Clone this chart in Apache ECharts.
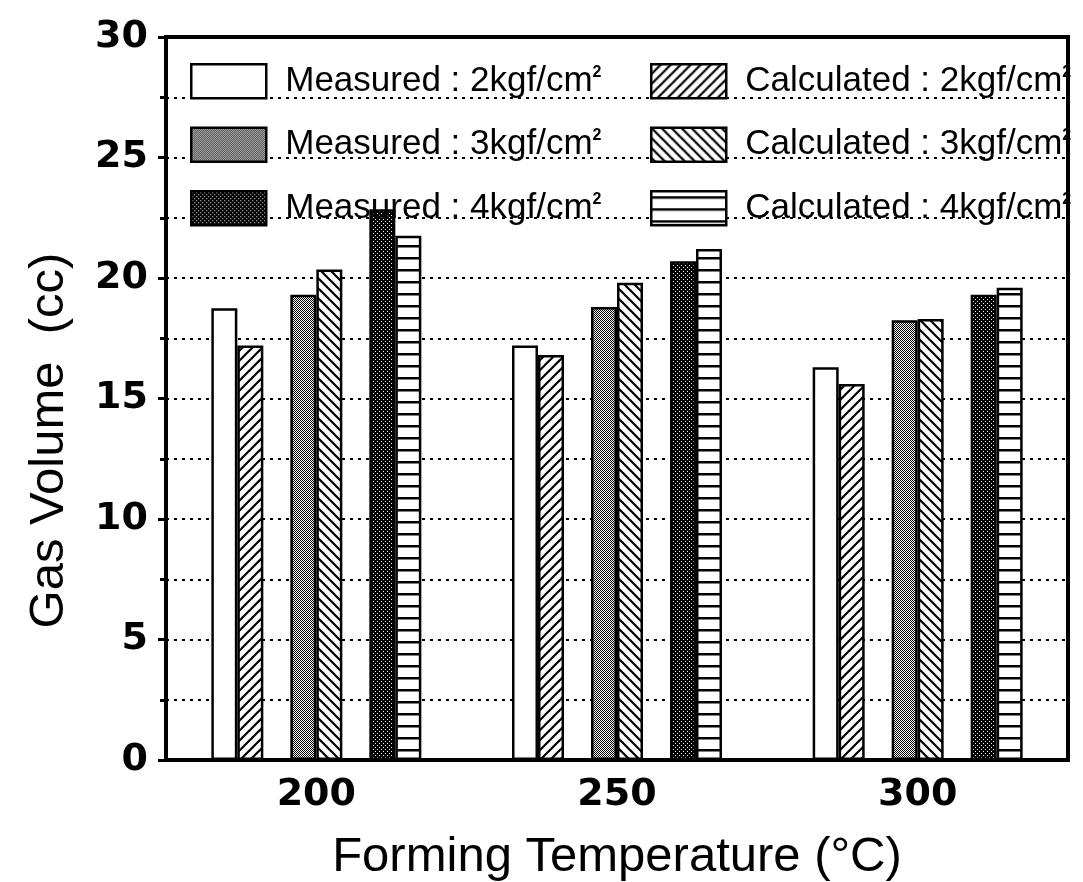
<!DOCTYPE html>
<html>
<head>
<meta charset="utf-8">
<script src="https://cdn.jsdelivr.net/npm/echarts@6/dist/echarts.min.js"></script>
<style>
  html, body { margin: 0; padding: 0; background: #fff; }
  #chart { width: 1083px; height: 882px; }
</style>
</head>
<body>
<div id="chart"></div>
<script>
// Gas volume (cc) at each forming temperature
const categories = ['200', '250', '300'];
const measured2   = [18.75, 17.2, 16.3];
const calculated2 = [17.2, 16.8, 15.6];
const measured3   = [19.3, 18.8, 18.25];
const calculated3 = [20.35, 19.8, 18.3];
const measured4   = [22.85, 20.7, 19.3];
const calculated4 = [21.75, 21.2, 19.6];

const names = {
  m2: 'Measured : 2kgf/cm2',
  m3: 'Measured : 3kgf/cm2',
  m4: 'Measured : 4kgf/cm2',
  c2: 'Calculated : 2kgf/cm2',
  c3: 'Calculated : 3kgf/cm2',
  c4: 'Calculated : 4kgf/cm2'
};

const FONT = '"Liberation Sans", Arial, Helvetica, sans-serif';
const TICK_FONT = '"DejaVu Sans", Verdana, sans-serif';

// ---- fill patterns ----
function tile(w, h, draw) {
  const c = document.createElement('canvas');
  c.width = w; c.height = h;
  const ctx = c.getContext('2d');
  ctx.fillStyle = '#fff';
  ctx.fillRect(0, 0, w, h);
  ctx.fillStyle = '#000';
  ctx.strokeStyle = '#000';
  draw(ctx, w, h);
  return { image: c, repeat: 'repeat' };
}
function diagonal(ctx, s, forward) {
  ctx.lineWidth = 2.2;
  const seg = (x1, y1, x2, y2) => {
    if (!forward) { x1 = s - x1; x2 = s - x2; }
    ctx.beginPath(); ctx.moveTo(x1, y1); ctx.lineTo(x2, y2); ctx.stroke();
  };
  seg(-2, s + 2, s + 2, -2);
  seg(-2, 2, 2, -2);
  seg(s - 2, s + 2, s + 2, s - 2);
}
const whiteFill = '#ffffff';
const fwdHatch  = tile(10, 10, (ctx, w) => diagonal(ctx, w, true));
const backHatch = tile(10, 10, (ctx, w) => diagonal(ctx, w, false));
const lightDots = tile(4, 4, ctx => {
  [[0,0],[2,0],[1,1],[3,1],[0,2],[2,2],[1,3],[3,3]].forEach(p => ctx.fillRect(p[0], p[1], 1, 1));
});
const darkDots = tile(4, 4, ctx => {
  ctx.fillRect(0, 0, 4, 4);
  ctx.fillStyle = '#fff';
  ctx.fillRect(1, 1, 1, 1);
  ctx.fillRect(3, 3, 1, 1);
});
const hLines = tile(4, 12, (ctx, w) => { ctx.fillRect(0, 5, w, 2.5); });

function barSeries(name, data, fill) {
  return {
    name: name,
    type: 'bar',
    data: data,
    barWidth: 26,
    barGap: 0,
    itemStyle: { color: fill, borderColor: '#000', borderWidth: 2.5 },
    emphasis: { disabled: true }
  };
}
function spacer() {
  return { type: 'bar', data: categories.map(() => null), barWidth: 27, barGap: 0, silent: true };
}

// legend labels: trailing "2" of the unit drawn as a small superscript
const legendCommon = {
  orient: 'vertical',
  padding: 0,
  itemWidth: 75,
  itemHeight: 34,
  itemGap: 27,
  top: 63,
  icon: 'rect',
  selectedMode: false,
  itemStyle: { borderColor: '#000', borderWidth: 2.5 },
  formatter: name => name.slice(0, -1) + '{sup|2}',
  textStyle: {
    fontFamily: FONT, fontSize: 35, color: '#000', lineHeight: 34, padding: [0, 0, 0, 14],
    rich: { sup: { fontFamily: FONT, fontSize: 16, fontWeight: 'bold', color: '#000', lineHeight: 16, verticalAlign: 'top' } }
  }
};

const chart = echarts.init(document.getElementById('chart'), null, { renderer: 'canvas' });
chart.setOption({
  animation: false,
  backgroundColor: '#fff',
  grid: {
    left: 166, right: 15, top: 37, bottom: 122,
    containLabel: false, outerBoundsMode: 'none',
    show: true, borderColor: '#000', borderWidth: 4
  },
  legend: [
    Object.assign({}, legendCommon, { left: 190, data: [names.m2, names.m3, names.m4] }),
    Object.assign({}, legendCommon, { left: 650, data: [names.c2, names.c3, names.c4] })
  ],
  xAxis: {
    type: 'category',
    data: categories,
    axisLine: { lineStyle: { color: '#000', width: 4 } },
    axisTick: { show: false },
    axisLabel: { fontFamily: TICK_FONT, fontSize: 38, fontWeight: 'bold', color: '#000', margin: 16 },
    name: 'Forming Temperature (°C)',
    nameLocation: 'middle',
    nameGap: 73,
    nameTextStyle: { fontFamily: FONT, fontSize: 49, color: '#000' }
  },
  yAxis: {
    type: 'value',
    min: 0,
    max: 30,
    interval: 5,
    axisLine: { show: true, lineStyle: { color: '#000', width: 4 } },
    axisTick: { show: true, length: 8, lineStyle: { color: '#000', width: 3 } },
    minorTick: { show: true, splitNumber: 2, length: 6, lineStyle: { color: '#000', width: 3 } },
    splitLine: { show: true, lineStyle: { color: '#000', width: 2, type: [3, 5] } },
    minorSplitLine: { show: true, lineStyle: { color: '#000', width: 2, type: [3, 5] } },
    axisLabel: { fontFamily: TICK_FONT, fontSize: 38, fontWeight: 'bold', color: '#000', margin: 18 },
    name: 'Gas Volume  (cc)',
    nameLocation: 'middle',
    nameGap: 92,
    nameTextStyle: { fontFamily: FONT, fontSize: 49, color: '#000', padding: [0, 84, 0, 0] }
  },
  series: [
    barSeries(names.m2, measured2, whiteFill),
    barSeries(names.c2, calculated2, fwdHatch),
    spacer(),
    barSeries(names.m3, measured3, lightDots),
    barSeries(names.c3, calculated3, backHatch),
    spacer(),
    barSeries(names.m4, measured4, darkDots),
    barSeries(names.c4, calculated4, hLines)
  ]
});
</script>
</body>
</html>
